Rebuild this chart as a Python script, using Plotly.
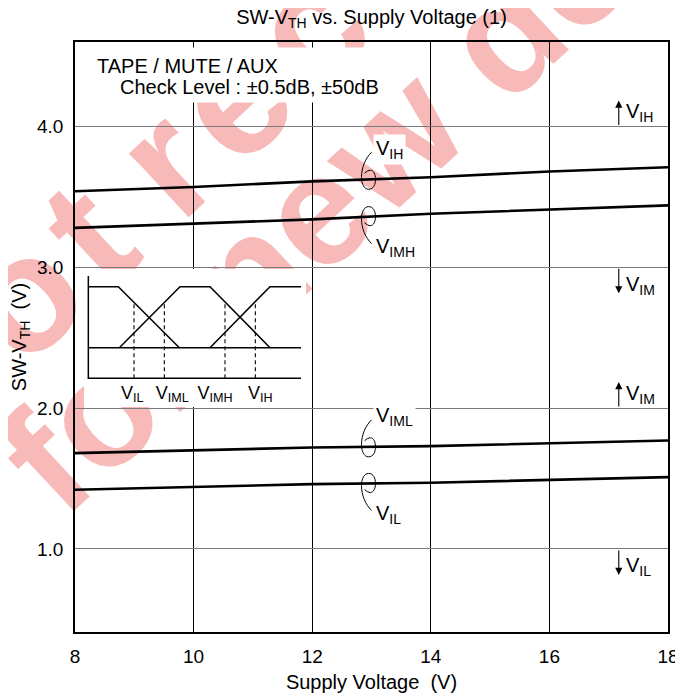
import numpy as np
import plotly.graph_objects as go

# ---------------- data ----------------
supply_v = [8, 10, 12, 14, 16, 18]
v_ih = [3.54, 3.57, 3.61, 3.64, 3.68, 3.71]
v_imh = [3.28, 3.31, 3.34, 3.38, 3.41, 3.44]
v_iml = [1.68, 1.70, 1.72, 1.73, 1.75, 1.77]
v_il = [1.42, 1.44, 1.46, 1.47, 1.49, 1.51]
series_labels = ["V<sub>IH</sub>", "V<sub>IMH</sub>", "V<sub>IML</sub>", "V<sub>IL</sub>"]

x_ticks = [8, 10, 12, 14, 16, 18]
y_ticks = [1.0, 2.0, 3.0, 4.0]

region_levels = [4.0, 3.0, 2.0, 1.0]
region_dirs = [1, -1, 1, -1]
region_labels = ["V<sub>IH</sub>", "V<sub>IM</sub>", "V<sub>IM</sub>", "V<sub>IL</sub>"]

# inset schematic (arbitrary units)
inset_axis_x = [40, 40, 678]
inset_axis_y = [18, 325, 325]
inset_base_x = [40, 678]
inset_base_y = [233, 233]
inset_c1_x = [40, 130, 313]
inset_c1_y = [50, 50, 233]
inset_c2_x = [133, 315, 405, 585]
inset_c2_y = [233, 50, 50, 233]
inset_c3_x = [405, 585, 678]
inset_c3_y = [233, 50, 50]
inset_mark_x = [177, 268, 450, 541]
inset_mark_top = [97, 97, 95, 95]
inset_label_x = [172, 292, 420, 556]
inset_mark_labels = ["V<sub>IL</sub>", "V<sub>IML</sub>", "V<sub>IMH</sub>", "V<sub>IH</sub>"]

title_text = "SW-V<sub>TH</sub> vs. Supply Voltage (1)"
note_lines = ["TAPE / MUTE / AUX", "Check Level : ±0.5dB, ±50dB"]
watermark_lines = ["Not recommended", "for new designs"]

FONT = "Liberation Sans, Arial, Helvetica, sans-serif"

# page geometry (plot div is offset by the browser's default body margin)
PAGE_OFF = 8
FIG_W, FIG_H = 683 - PAGE_OFF, 697 - PAGE_OFF
PL, PR, PT, PB = 75, 668, 42, 632      # plot area in page pixels
PW, PH = PR - PL, PB - PT


def px2paper(px, py):
    return (px - PL) / PW, (PB - py) / PH


fig = go.Figure()

# main curves
for vals in [v_ih, v_imh, v_iml, v_il]:
    fig.add_trace(go.Scatter(x=supply_v, y=vals, mode="lines",
                             line=dict(color="black", width=2.6),
                             showlegend=False, hoverinfo="skip"))


def inset_line(xs, ys, dash="solid", width=1.5):
    fig.add_trace(go.Scatter(x=xs, y=ys, xaxis="x2", yaxis="y2", mode="lines",
                             line=dict(color="black", width=width, dash=dash),
                             showlegend=False, hoverinfo="skip"))


inset_line(inset_axis_x, inset_axis_y)
inset_line(inset_base_x, inset_base_y)
inset_line(inset_c1_x, inset_c1_y)
inset_line(inset_c2_x, inset_c2_y)
inset_line(inset_c3_x, inset_c3_y)
for mx, mt in zip(inset_mark_x, inset_mark_top):
    inset_line([mx, mx], [325, mt], dash="4px,3px", width=1.1)
fig.add_trace(go.Scatter(x=inset_label_x, y=[372] * 4, xaxis="x2", yaxis="y2",
                         mode="text", text=inset_mark_labels,
                         textfont=dict(size=18, color="black", family=FONT),
                         textposition="middle center", showlegend=False, hoverinfo="skip"))

# ---------------- watermark (below grid) ----------------
def tracked(s):
    # hair spaces between letters of each word (watermark letter-spacing)
    return " ".join("\u200a".join(w) for w in s.split(" "))


wm_text = [tracked(watermark_lines[0]), watermark_lines[1]]
wm_px = [(465.8, -141.1), (455.0, 60.0)]
wm_size = [165, 158]
for txt, (wx, wy), sz in zip(wm_text, wm_px, wm_size):
    cx, cy = px2paper(wx, wy)
    fig.add_shape(type="rect", xref="paper", yref="paper",
                  x0=cx - 0.005, x1=cx + 0.005, y0=cy - 0.005, y1=cy + 0.005,
                  line=dict(width=0), fillcolor="rgba(0,0,0,0)", layer="below",
                  label=dict(text=f"<b>{txt}</b>", textangle=-43,
                             textposition="middle center",
                             font=dict(size=sz, color="#f8b9b9", family=FONT)))

# ---------------- loops ----------------
loop_up = "M 0,27 C -6,21 -10,12 -10,2 C -10,-5 -7,-10 -3,-10 C 2,-10 4,-5 4,0 C 4,5 2,9 -1,9 C -3,9 -5,8 -7,6"
loop_dn = "M 0,-27 C -6,-21 -10,-12 -10,-2 C -10,5 -7,10 -3,10 C 2,10 4,5 4,0 C 4,-5 2,-9 -1,-9 C -3,-9 -5,-8 -7,-6"
all_series = [v_ih, v_imh, v_iml, v_il]
label_side = [1, -1, 1, -1]
x_mark = 13
annotations = []
for vals, side, lab in zip(all_series, label_side, series_labels):
    y13 = float(np.interp(x_mark, supply_v, vals))
    fig.add_shape(type="path", xref="x", yref="y", xsizemode="pixel", ysizemode="pixel",
                  xanchor=x_mark, yanchor=y13, path=loop_up if side > 0 else loop_dn,
                  line=dict(color="black", width=1), layer="above")
    annotations.append(dict(x=x_mark, y=y13, xref="x", yref="y", text=lab, showarrow=False,
                            xanchor="left", yanchor="middle", xshift=1,
                            yshift=30 * side + (0 if side > 0 else -1),
                            bgcolor="white", borderpad=2,
                            font=dict(size=20, color="black", family=FONT)))

# white box behind note + note text (drawn first)
bx, by = px2paper(234.5, 75)
annotations.insert(0, dict(x=bx, y=by, xref="paper", yref="paper",
                           text="\u00a0", showarrow=False, width=315, height=54, borderpad=0,
                           bgcolor="white", xanchor="center", yanchor="middle"))
n1x, n1y = px2paper(95, 66)
annotations.insert(1, dict(x=n1x, y=n1y, xref="paper", yref="paper",
                           text=note_lines[0], showarrow=False, xanchor="left", yanchor="middle",
                           font=dict(size=20, color="black", family=FONT)))
n2x, n2y = px2paper(118, 87.5)
annotations.insert(2, dict(x=n2x, y=n2y, xref="paper", yref="paper",
                           text=note_lines[1], showarrow=False, xanchor="left", yanchor="middle",
                           font=dict(size=20, color="black", family=FONT)))

# right side region markers
px_per_unit = PH / (4.6 - 0.41)
x_arrow = 17.17
for lvl, d, lab in zip(region_levels, region_dirs, region_labels):
    tip = lvl + d * 26 / px_per_unit
    annotations.append(dict(x=x_arrow, y=tip, ax=x_arrow, ay=lvl, xref="x", yref="y",
                            axref="x", ayref="y", text="", showarrow=True, arrowhead=2,
                            arrowsize=1.3, arrowwidth=1.1, arrowcolor="black", standoff=0))
    annotations.append(dict(x=x_arrow, y=lvl, xref="x", yref="y", text=lab, showarrow=False,
                            xanchor="left", yanchor="middle", xshift=5,
                            yshift=14 if d > 0 else -18,
                            font=dict(size=20, color="black", family=FONT)))

ix0, iy0 = px2paper(84, 407)
ix1, iy1 = px2paper(306, 269)

fig.update_layout(
    width=FIG_W, height=FIG_H, autosize=False,
    margin=dict(l=PL - PAGE_OFF, r=683 - PR, t=PT - PAGE_OFF, b=697 - PB, autoexpand=False),
    paper_bgcolor="white", plot_bgcolor="white",
    font=dict(family=FONT, color="black", size=19),
    title=dict(text=title_text, x=0.5, xref="paper", xanchor="center",
               y=1 - (17 - PAGE_OFF) / FIG_H, yref="container", yanchor="middle", automargin=False,
               font=dict(size=20, color="black", family=FONT)),
    xaxis=dict(range=[8, 18], tickvals=x_ticks, showgrid=True, gridcolor="black", gridwidth=1,
               showline=True, mirror=True, linecolor="black", linewidth=1.5, zeroline=False,
               ticks="", ticklabelstandoff=6, automargin=False,
               title=dict(text="Supply Voltage\u00a0\u00a0(V)", standoff=9, font=dict(size=20))),
    yaxis=dict(range=[0.41, 4.6], tickvals=y_ticks, tickformat=".1f", showgrid=True,
               gridcolor="#7a7a7a", gridwidth=1, showline=True, mirror=True, linecolor="black",
               linewidth=1.5, zeroline=False, ticks="", ticklabelstandoff=6, automargin=False,
               title=dict(text="SW-V<sub>TH</sub>\u00a0\u00a0(V)", standoff=7, font=dict(size=20))),
    xaxis2=dict(domain=[ix0, ix1], range=[27, 693], visible=False, anchor="y2"),
    yaxis2=dict(domain=[iy0, iy1], range=[411, -3], visible=False, anchor="x2"),
    annotations=annotations,
    showlegend=False,
)

fig.write_html("out.html")
